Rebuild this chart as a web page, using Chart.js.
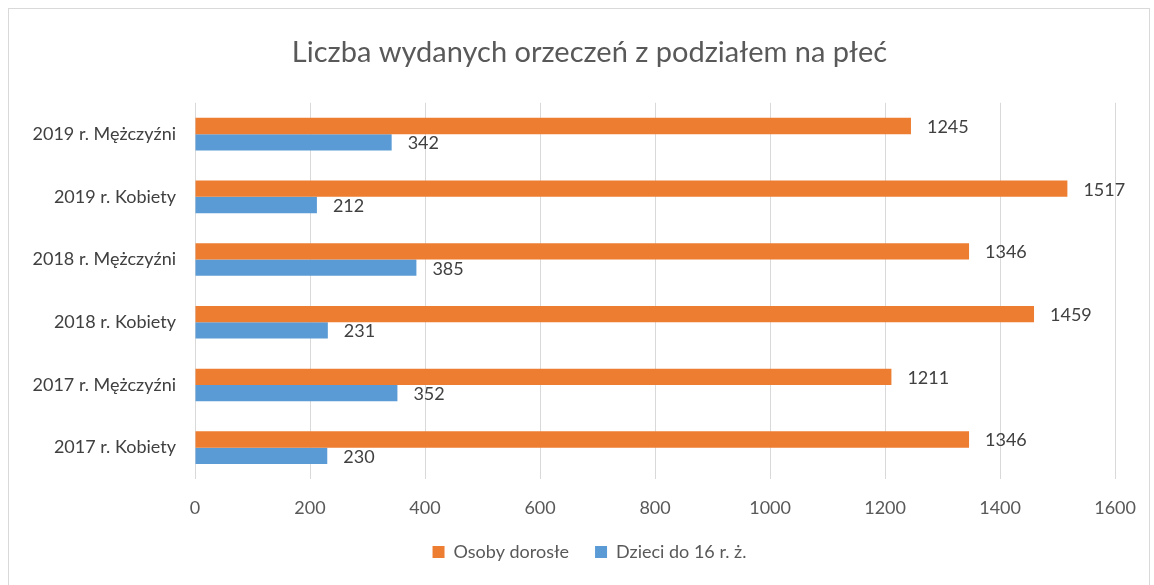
<!DOCTYPE html>
<html>
<head>
<meta charset="utf-8">
<script src="https://cdn.jsdelivr.net/npm/chart.js@4/dist/chart.umd.min.js"></script>
<style>
  html, body { margin: 0; padding: 0; background: #fff; }
  #wrap { width: 1154px; height: 585px; position: relative; }
</style>
</head>
<body>
<div id="wrap"><canvas id="chart"></canvas></div>
<script>
// data
const categories = ['2019 r. Mężczyźni', '2019 r. Kobiety', '2018 r. Mężczyźni', '2018 r. Kobiety', '2017 r. Mężczyźni', '2017 r. Kobiety'];
const adults = [1245, 1517, 1346, 1459, 1211, 1346];
const children = [342, 212, 385, 231, 352, 230];
const xTicks = [0, 200, 400, 600, 800, 1000, 1200, 1400, 1600];

const FONT = 'Lato, "Open Sans", sans-serif';

// light frame round the whole chart
const framePlugin = {
    id: 'frame',
    beforeDraw(chart) {
        const ctx = chart.ctx;
        ctx.save();
        ctx.strokeStyle = '#d9d9d9';
        ctx.lineWidth = 1;
        ctx.strokeRect(8.5, 8.5, chart.width - 13, chart.height + 10);
        ctx.restore();
    },
    // let the long category labels run past the left padding without being clipped
    afterLayout(chart) {
        chart.scales.y.left = 0;
    }
};

// value labels at the end of each bar
const valueLabels = {
    id: 'valueLabels',
    afterDatasetsDraw(chart) {
        const ctx = chart.ctx;
        ctx.save();
        ctx.font = '18px ' + FONT;
        ctx.fillStyle = '#404040';
        ctx.textAlign = 'left';
        ctx.textBaseline = 'middle';
        chart.data.datasets.forEach((ds, i) => {
            chart.getDatasetMeta(i).data.forEach((bar, j) => {
                ctx.fillText(ds.data[j], bar.x + 16, bar.y + 1);
            });
        });
        ctx.restore();
    }
};

new Chart(document.getElementById('chart'), {
    type: 'bar',
    data: {
        labels: categories,
        datasets: [
            { label: 'Osoby dorosłe', data: adults, backgroundColor: '#ED7D31', borderWidth: 0 },
            { label: 'Dzieci do 16 r. ż.', data: children, backgroundColor: '#5B9BD5', borderWidth: 0 }
        ]
    },
    options: {
        indexAxis: 'y',
        responsive: true,
        maintainAspectRatio: false,
        animation: false,
        datasets: { bar: { categoryPercentage: 0.52, barPercentage: 1 } },
        layout: { padding: { top: 8, right: 33, bottom: 14, left: 58 } },
        scales: {
            x: {
                min: 0, max: 1600,
                afterBuildTicks: axis => { axis.ticks = xTicks.map(v => ({ value: v })); },
                afterFit: axis => { axis.height = 38; },
                grid: { color: '#d9d9d9', drawTicks: false },
                border: { display: false },
                ticks: { color: '#595959', font: { family: FONT, size: 18 }, padding: 18, callback: v => String(v) }
            },
            y: {
                afterFit: axis => { axis.width = 137; },
                grid: { display: false, drawTicks: false },
                border: { display: false },
                ticks: { color: '#404040', font: { family: FONT, size: 18 }, padding: 19 }
            }
        },
        plugins: {
            title: {
                display: true,
                text: 'Liczba wydanych orzeczeń z podziałem na płeć',
                color: '#595959',
                font: { family: FONT, size: 29, weight: 'normal' },
                padding: { top: 27, bottom: 33 }
            },
            legend: {
                position: 'bottom',
                labels: {
                    color: '#595959',
                    font: { family: FONT, size: 18 },
                    boxWidth: 12, boxHeight: 12,
                    padding: 26
                }
            },
            tooltip: { enabled: false }
        }
    },
    plugins: [framePlugin, valueLabels]
});
</script>
</body>
</html>
